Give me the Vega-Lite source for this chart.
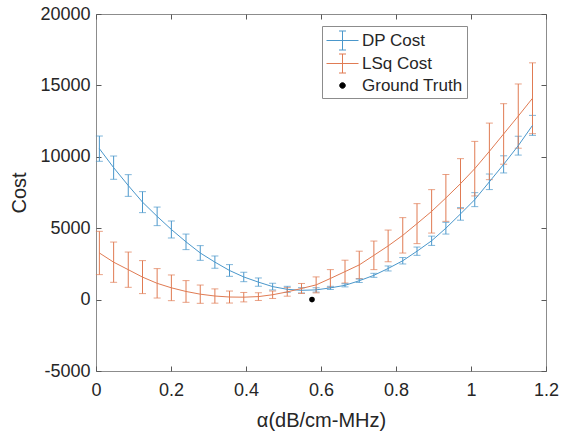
{
  "$schema": "https://vega.github.io/schema/vega-lite/v6.json",
  "width": 450,
  "height": 357,
  "autosize": "none",
  "padding": {"left": 96, "top": 14, "right": 16, "bottom": 61},
  "background": "white",
  "config": {
    "font": "Liberation Sans",
    "view": {"stroke": "#8c8c8c", "strokeWidth": 1}
  },
  "datasets": {
    "cost": [
      {"a": 0.009, "s": "DP Cost", "c": 10570, "e": 885},
      {"a": 0.047, "s": "DP Cost", "c": 9240, "e": 815},
      {"a": 0.086, "s": "DP Cost", "c": 7990, "e": 760},
      {"a": 0.124, "s": "DP Cost", "c": 6825, "e": 735},
      {"a": 0.163, "s": "DP Cost", "c": 5830, "e": 650},
      {"a": 0.201, "s": "DP Cost", "c": 4910, "e": 595},
      {"a": 0.240, "s": "DP Cost", "c": 4045, "e": 545},
      {"a": 0.278, "s": "DP Cost", "c": 3265, "e": 515},
      {"a": 0.317, "s": "DP Cost", "c": 2625, "e": 430},
      {"a": 0.356, "s": "DP Cost", "c": 2040, "e": 410},
      {"a": 0.394, "s": "DP Cost", "c": 1585, "e": 330},
      {"a": 0.433, "s": "DP Cost", "c": 1225, "e": 290},
      {"a": 0.471, "s": "DP Cost", "c": 910, "e": 235},
      {"a": 0.510, "s": "DP Cost", "c": 720, "e": 210},
      {"a": 0.548, "s": "DP Cost", "c": 650, "e": 185},
      {"a": 0.587, "s": "DP Cost", "c": 680, "e": 150},
      {"a": 0.625, "s": "DP Cost", "c": 820, "e": 110},
      {"a": 0.664, "s": "DP Cost", "c": 1000, "e": 110},
      {"a": 0.702, "s": "DP Cost", "c": 1320, "e": 120},
      {"a": 0.741, "s": "DP Cost", "c": 1700, "e": 140},
      {"a": 0.779, "s": "DP Cost", "c": 2180, "e": 175},
      {"a": 0.818, "s": "DP Cost", "c": 2720, "e": 225},
      {"a": 0.856, "s": "DP Cost", "c": 3390, "e": 290},
      {"a": 0.895, "s": "DP Cost", "c": 4120, "e": 325},
      {"a": 0.933, "s": "DP Cost", "c": 5000, "e": 410},
      {"a": 0.972, "s": "DP Cost", "c": 6000, "e": 440},
      {"a": 1.010, "s": "DP Cost", "c": 7000, "e": 490},
      {"a": 1.049, "s": "DP Cost", "c": 8250, "e": 545},
      {"a": 1.087, "s": "DP Cost", "c": 9470, "e": 600},
      {"a": 1.126, "s": "DP Cost", "c": 10780, "e": 660},
      {"a": 1.164, "s": "DP Cost", "c": 12200, "e": 700},
      {"a": 0.009, "s": "LSq Cost", "c": 3265, "e": 1515},
      {"a": 0.047, "s": "LSq Cost", "c": 2620, "e": 1410},
      {"a": 0.086, "s": "LSq Cost", "c": 2095, "e": 1235},
      {"a": 0.124, "s": "LSq Cost", "c": 1575, "e": 1155},
      {"a": 0.163, "s": "LSq Cost", "c": 1140, "e": 1030},
      {"a": 0.201, "s": "LSq Cost", "c": 825, "e": 900},
      {"a": 0.240, "s": "LSq Cost", "c": 570, "e": 760},
      {"a": 0.278, "s": "LSq Cost", "c": 380, "e": 640},
      {"a": 0.317, "s": "LSq Cost", "c": 250, "e": 500},
      {"a": 0.356, "s": "LSq Cost", "c": 180, "e": 420},
      {"a": 0.394, "s": "LSq Cost", "c": 170, "e": 330},
      {"a": 0.433, "s": "LSq Cost", "c": 210, "e": 270},
      {"a": 0.471, "s": "LSq Cost", "c": 340, "e": 260},
      {"a": 0.510, "s": "LSq Cost", "c": 540, "e": 300},
      {"a": 0.548, "s": "LSq Cost", "c": 780, "e": 350},
      {"a": 0.587, "s": "LSq Cost", "c": 1030, "e": 560},
      {"a": 0.625, "s": "LSq Cost", "c": 1480, "e": 620},
      {"a": 0.664, "s": "LSq Cost", "c": 1960, "e": 800},
      {"a": 0.702, "s": "LSq Cost", "c": 2430, "e": 960},
      {"a": 0.741, "s": "LSq Cost", "c": 3100, "e": 1000},
      {"a": 0.779, "s": "LSq Cost", "c": 3760, "e": 1110},
      {"a": 0.818, "s": "LSq Cost", "c": 4500, "e": 1240},
      {"a": 0.856, "s": "LSq Cost", "c": 5320, "e": 1400},
      {"a": 0.895, "s": "LSq Cost", "c": 6180, "e": 1520},
      {"a": 0.933, "s": "LSq Cost", "c": 7120, "e": 1640},
      {"a": 0.972, "s": "LSq Cost", "c": 8120, "e": 1750},
      {"a": 1.010, "s": "LSq Cost", "c": 9170, "e": 1910},
      {"a": 1.049, "s": "LSq Cost", "c": 10380, "e": 1980},
      {"a": 1.087, "s": "LSq Cost", "c": 11600, "e": 2120},
      {"a": 1.126, "s": "LSq Cost", "c": 12850, "e": 2250},
      {"a": 1.164, "s": "LSq Cost", "c": 14100, "e": 2480}
    ],
    "truth": [
      {"a": 0.576, "s": "Ground Truth", "c": 0}
    ]
  },
  "resolve": {"axis": {"x": "independent", "y": "independent"}},
  "layer": [
    {
      "data": {"name": "cost"},
      "mark": {"type": "errorbar", "ticks": {"size": 7, "thickness": 1}, "rule": {"strokeWidth": 1}},
      "encoding": {
        "x": {"field": "a", "type": "quantitative", "scale": {"domain": [0, 1.2], "nice": false, "zero": false}, "axis": null},
        "y": {"field": "c", "type": "quantitative", "scale": {"domain": [-5000, 20000], "nice": false, "zero": false}, "axis": null},
        "yError": {"field": "e"},
        "color": {
          "field": "s", "type": "nominal",
          "scale": {"domain": ["DP Cost", "LSq Cost"], "range": ["#4a97cb", "#e07b53"]},
          "legend": null
        }
      }
    },
    {
      "data": {"name": "cost"},
      "mark": {"type": "line", "strokeWidth": 1},
      "encoding": {
        "x": {"field": "a", "type": "quantitative",
          "axis": {"orient": "bottom", "values": [0, 0.2, 0.4, 0.6, 0.8, 1, 1.2], "labelExpr": "'' + datum.value",
            "title": "α(dB/cm-MHz)", "domain": false, "grid": false, "tickSize": -5, "tickColor": "#595959",
            "labelPadding": 15, "labelFontSize": 18, "labelColor": "#262626", "labelFlush": false,
            "titleFontSize": 20, "titleFontWeight": "normal", "titleColor": "#262626", "titlePadding": 11}},
        "y": {"field": "c", "type": "quantitative",
          "axis": {"orient": "left", "values": [-5000, 0, 5000, 10000, 15000, 20000], "labelExpr": "'' + datum.value",
            "title": "Cost", "domain": false, "grid": false, "tickSize": -5, "tickColor": "#595959",
            "labelPadding": 11, "labelFontSize": 18, "labelColor": "#262626", "labelFlush": false,
            "titleFontSize": 20, "titleFontWeight": "normal", "titleColor": "#262626", "titlePadding": 10}},
        "color": {"field": "s", "type": "nominal", "legend": null}
      }
    },
    {
      "data": {"name": "truth"},
      "mark": {"type": "point", "filled": true, "size": 31, "opacity": 1, "color": "#000000"},
      "encoding": {
        "x": {"field": "a", "type": "quantitative",
          "axis": {"orient": "top", "values": [0, 0.2, 0.4, 0.6, 0.8, 1, 1.2], "labels": false, "title": null,
            "domain": false, "grid": false, "tickSize": -5, "tickColor": "#595959"}},
        "y": {"field": "c", "type": "quantitative",
          "axis": {"orient": "right", "values": [-5000, 0, 5000, 10000, 15000, 20000], "labels": false, "title": null,
            "domain": false, "grid": false, "tickSize": -5, "tickColor": "#595959"}}
      }
    },
    {
      "data": {"name": "truth"},
      "mark": {"type": "point", "filled": true, "size": 400, "opacity": 0},
      "encoding": {
        "x": {"field": "a", "type": "quantitative", "axis": null},
        "y": {"field": "c", "type": "quantitative", "axis": null},
        "fill": {"field": "s", "type": "nominal",
          "scale": {"domain": ["DP Cost", "LSq Cost", "Ground Truth"], "range": ["#4a97cb", "#e07b53", "#000000"]},
          "legend": {
            "orient": "none", "legendX": 226, "legendY": 12, "title": null,
            "padding": 4, "rowPadding": 0, "symbolSize": 400, "labelOffset": 15,
            "labelFontSize": 17, "labelColor": "#262626", "labelFont": "Liberation Sans",
            "strokeColor": "#8c8c8c", "fillColor": "white", "symbolStrokeWidth": 1,
            "encode": {"symbols": {"update": {
              "fill": {"scale": "fill", "field": "value"},
              "stroke": {"scale": "fill", "field": "value"},
              "strokeWidth": {"value": 1},
              "opacity": {"value": 1}
            }}}
          }},
        "shape": {"field": "s", "type": "nominal",
          "scale": {"domain": ["DP Cost", "LSq Cost", "Ground Truth"],
            "range": ["M-1,0H2.2M0.6,-0.95V0.95M0.25,-0.95H0.95M0.25,0.95H0.95",
                      "M-1,0H2.2M0.6,-0.95V0.95M0.25,-0.95H0.95M0.25,0.95H0.95",
                      "M0.6,-0.28A0.28,0.28 0 1,1 0.6,0.28A0.28,0.28 0 1,1 0.6,-0.28Z"]},
          "legend": {
            "orient": "none", "legendX": 226, "legendY": 12, "title": null,
            "padding": 4, "rowPadding": 0, "symbolSize": 400, "labelOffset": 15,
            "labelFontSize": 17, "labelColor": "#262626", "labelFont": "Liberation Sans",
            "strokeColor": "#8c8c8c", "fillColor": "white", "symbolStrokeWidth": 1,
            "encode": {"symbols": {"update": {
              "fill": {"scale": "fill", "field": "value"},
              "stroke": {"scale": "fill", "field": "value"},
              "strokeWidth": {"value": 1},
              "opacity": {"value": 1}
            }}}
          }}
      }
    }
  ]
}
